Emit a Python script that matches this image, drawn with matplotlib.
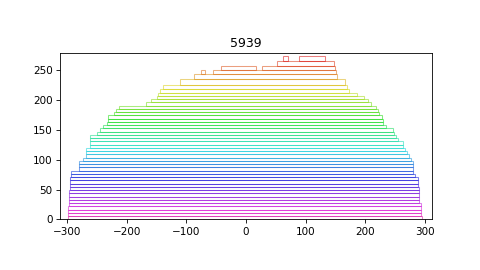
import numpy as np
import matplotlib
matplotlib.use("Agg")
import matplotlib.pyplot as plt
from matplotlib.patches import Rectangle

title = "5939"

# thin layers at the bottom, bottom to top
thin_h = 5.45
thin_left = [-298.5, -298.3, -298, -297.8, -297.5, -297.2, -297, -296.6, -296.2, -295.8,
             -295.4, -295, -294.5, -294, -293, -280, -280, -280, -273, -269,
             -269, -269, -262, -262, -262, -261, -250, -245, -240, -234,
             -232, -232, -222, -218, -213.6, -167, -160, -150, -148, -145]
thin_right = [296, 293.4, 293.4, 293.4, 293.4, 290.6, 290.6, 290.6, 290.6, 290.6,
              287.8, 287.8, 287.8, 284, 280.6, 280.6, 280.6, 280.6, 276.7, 273,
              270, 266, 262.7, 262.7, 255, 251.6, 248.7, 246, 235, 230.3,
              230.3, 228, 223.6, 221, 218, 209.7, 204, 198.5, 187, 173]

# thicker boxes on top
top_y0 = [218, 226, 235, 243, 243, 250.6, 250.6, 257.5, 265.8, 265.8]
top_y1 = [226, 235, 243, 250.6, 250.6, 257.5, 257.5, 265.8, 274, 274]
top_x0 = [-140, -110, -88, -76, -56, -41.5, 27, 51.6, 62, 88.5]
top_x1 = [169, 166.7, 152.7, -68, 151, 16, 150, 148, 70, 133]

y0s = [i * thin_h for i in range(len(thin_left))] + top_y0
y1s = [(i + 1) * thin_h for i in range(len(thin_left))] + top_y1
x0s = thin_left + top_x0
x1s = thin_right + top_x1
y_max = max(y1s)

fig, ax = plt.subplots(figsize=(6.4, 3.6), dpi=75)
cmap = plt.get_cmap("hsv")

for a, b, lo, hi in zip(x0s, x1s, y0s, y1s):
    c = np.array(cmap(0.9 * (1 - lo / (y_max - 8))))
    c[:3] = c[:3] * 0.85
    ax.add_patch(Rectangle((a, lo), b - a, hi - lo, fill=False,
                           edgecolor=tuple(c), alpha=0.5, linewidth=1))

ax.set_xlim(-312, 312)
ax.set_ylim(0, 278.5)
ax.set_aspect("equal")
ax.set_xticks([-300, -200, -100, 0, 100, 200, 300])
ax.set_yticks([0, 50, 100, 150, 200, 250])
ax.set_title(title)

plt.savefig("out.png")
